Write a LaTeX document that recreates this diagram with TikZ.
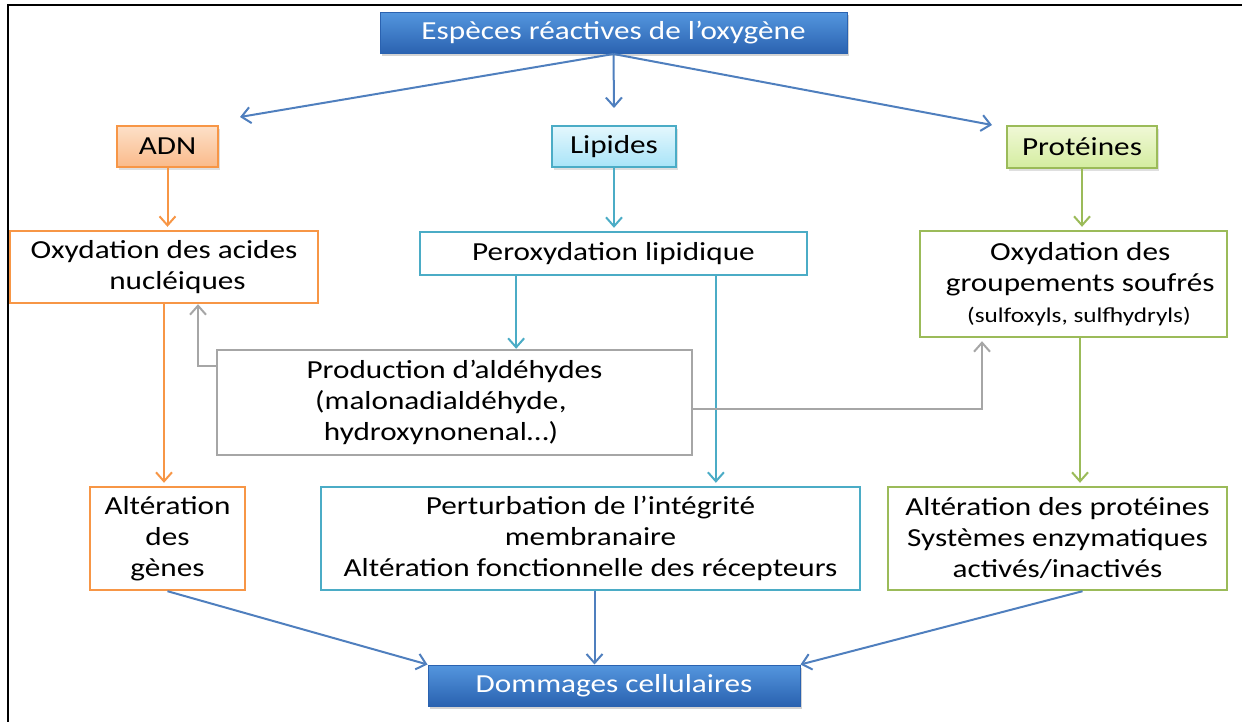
\documentclass[tikz,border=0pt]{standalone}
\usepackage{fontspec}
\setmainfont{Carlito}[FakeStretch=1.2]
\usetikzlibrary{arrows.meta, positioning, calc, shadows}
\definecolor{rosblue}{RGB}{79,127,190}
\definecolor{adnorange}{RGB}{247,150,70}
\definecolor{lipcyan}{RGB}{75,172,198}
\definecolor{protgreen}{RGB}{155,187,89}
\definecolor{aldgray}{RGB}{166,166,166}
\definecolor{adntop}{RGB}{253,224,200}
\definecolor{adnbot}{RGB}{250,186,138}
\definecolor{liptop}{RGB}{228,247,253}
\definecolor{lipbot}{RGB}{168,228,248}
\definecolor{prottop}{RGB}{240,248,214}
\definecolor{protbot}{RGB}{212,237,160}
\definecolor{blutop}{RGB}{84,150,222}
\definecolor{blubot}{RGB}{42,98,176}
\tikzset{
	>={Straight Barb[length=4.5pt,width=8pt]},
	every node/.style={font=\fontsize{13}{15.5}\selectfont, align=center, inner sep=0pt},
	bluebox/.style={draw=blubot, line width=0.5pt, top color=blutop, bottom color=blubot, text=white, drop shadow={shadow xshift=1pt, shadow yshift=-1.5pt, opacity=0.35}},
	headbox/.style={line width=0.9pt, drop shadow={shadow xshift=1pt, shadow yshift=-1.5pt, opacity=0.25}},
	outbox/.style={draw=#1, line width=1.2pt, fill=white},
	arr/.style={->, line width=1pt, draw=#1},
}
\begin{document}
\begin{tikzpicture}[x=0.5pt, y=-0.5pt]
			
			\useasboundingbox (0,0) rectangle (1242,722);
			\draw[line width=1.2pt] (1242,5) -- (8,5) -- (8,722);
			
			\node[bluebox, minimum width=233.5pt, minimum height=20.5pt] (ROS) at (613.5,33) {Espèces réactives de l’oxygène};
			\node[headbox, draw=adnorange, top color=adntop, bottom color=adnbot, minimum width=50.5pt, minimum height=20.5pt] (ADN) at (167.5,146.5) {ADN};
			\node[headbox, draw=lipcyan, top color=liptop, bottom color=lipbot, minimum width=62pt, minimum height=20.5pt] (LIP) at (614,146.5) {Lipides};
			\node[headbox, draw=protgreen, top color=prottop, bottom color=protbot, minimum width=75pt, minimum height=21pt] (PROT) at (1082,147) {Protéines};
			
			\node[outbox=adnorange, minimum width=154pt, minimum height=36pt] (OXAN) at (164,267) {Oxydation des acides\\\hphantom{xx}nucléiques};
			\node[outbox=lipcyan, minimum width=193.5pt, minimum height=21.5pt] (PEROX) at (613.5,253.5) {Peroxydation lipidique};
			\node[outbox=protgreen, minimum width=153.5pt, minimum height=53pt] (OXGS) at (1073.5,284) {\hphantom{x}Oxydation des\\\hphantom{x}groupements soufrés\\{\fontsize{10.5}{13}\selectfont\hphantom{x}(sulfoxyls, sulfhydryls)}};
			\node[outbox=aldgray, minimum width=237.5pt, minimum height=52.5pt] (ALD) at (454.5,402.5) {Production d’aldéhydes\\\mbox{(malonadialdéhyde\kern0.3pt,}\hphantom{xx}\\hydroxynonenal…)\hphantom{xx}};
			
			\node[outbox=adnorange, minimum width=77.5pt, minimum height=51.5pt] (ALTG) at (167.5,538.5) {Altération\\des\\gènes};
			\node[outbox=lipcyan, minimum width=269.5pt, minimum height=51.5pt] (PERT) at (590.5,538.5) {Perturbation de l’intégrité\\membranaire\\Altération fonctionnelle des récepteurs};
			\node[outbox=protgreen, minimum width=169.5pt, minimum height=51.5pt] (ALTP) at (1057.5,538.5) {Altération des protéines\\Systèmes enzymatiques\\activés/inactivés};
			
			\node[bluebox, minimum width=186pt, minimum height=20.5pt] (DOM) at (614,685.5) {Dommages cellulaires};
			
			% free ends of the top arrows
			\coordinate (ADNtip) at (240,117);
			\coordinate (LIPtip) at (614,108);
			\coordinate (PROTtip) at (992,125);
			
			\draw[arr=rosblue] (ROS.south) -- (ADNtip);
			\draw[arr=rosblue] (ROS.south) -- (LIPtip);
			\draw[arr=rosblue] (ROS.south) -- (PROTtip);
			
			\draw[arr=adnorange, shorten >=1.5pt] (ADN.south) -- (ADN.south |- OXAN.north);
			\draw[arr=lipcyan, shorten >=1.5pt] (LIP.south) -- (LIP.south |- PEROX.north);
			\draw[arr=protgreen, shorten >=1.5pt] (PROT.south) -- (PROT.south |- OXGS.north);
			
			\coordinate (PX1) at ($(PEROX.south west)!0.25!(PEROX.south east)$);
			\coordinate (PX2) at ($(PEROX.south west)!0.763!(PEROX.south east)$);
			\draw[arr=lipcyan] (PX1) -- (PX1 |- ALD.north);
			\draw[arr=lipcyan, shorten >=1.5pt] (PX2) -- (PX2 |- PERT.north);
			
			\draw[arr=aldgray] ([yshift=-8.5pt]ALD.north west) -| ([xshift=17pt]OXAN.south);
			\draw[arr=aldgray, shorten >=1.5pt] ([yshift=-3.25pt]ALD.east) -| ([xshift=-45.75pt]OXGS.south);
			
			\draw[arr=adnorange, shorten >=1.5pt] (OXAN.south) -- (OXAN.south |- ALTG.north);
			\draw[arr=protgreen, shorten >=1.5pt] ([xshift=3.25pt]OXGS.south) -- ([xshift=3.25pt]OXGS.south |- ALTP.north);
			
			\draw[arr=rosblue] (ALTG.south) -- (DOM.north west);
			\draw[arr=rosblue] ([xshift=2pt]PERT.south) -- ([xshift=2pt]PERT.south |- DOM.north);
			\draw[arr=rosblue] ([xshift=12.5pt]ALTP.south) -- (DOM.north east);
			
		\end{tikzpicture}
\end{document}
